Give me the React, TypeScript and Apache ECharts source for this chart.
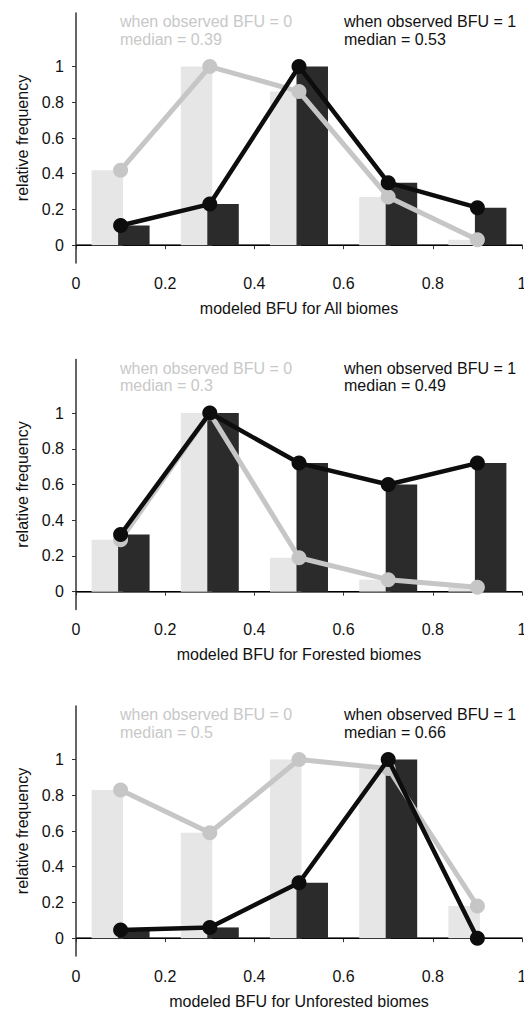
import React, { useEffect, useRef } from "react";
import * as echarts from "echarts";

const centers = [0.1, 0.3, 0.5, 0.7, 0.9];
const xTicks = [0, 0.2, 0.4, 0.6, 0.8, 1];
const yTicks = [0, 0.2, 0.4, 0.6, 0.8, 1];

const allObs0 = [0.42, 1, 0.86, 0.27, 0.03];
const allObs1 = [0.11, 0.23, 1, 0.35, 0.21];
const forObs0 = [0.29, 1, 0.19, 0.067, 0.025];
const forObs1 = [0.32, 1, 0.72, 0.6, 0.72];
const unfObs0 = [0.83, 0.59, 1, 0.95, 0.18];
const unfObs1 = [0.045, 0.06, 0.31, 1, 0];

const titles = [
  "modeled BFU for All biomes",
  "modeled BFU for Forested biomes",
  "modeled BFU for Unforested biomes",
];
const medians0 = ["0.39", "0.3", "0.5"];
const medians1 = ["0.53", "0.49", "0.66"];

const FONT = "'Liberation Sans', Arial, sans-serif";
const GRID_TOPS = [13, 359.5, 706];
const GRID_LEFT = 76;
const GRID_W = 446;
const GRID_H = 250;

const LIGHT_BAR = "#e6e6e6";
const DARK_BAR = "#2b2b2b";
const GRAY_LINE = "#c6c6c6";
const BLACK_LINE = "#0d0d0d";

function fmt(v: number) {
  return String(Math.round(v * 10) / 10);
}

function barSeries(idx: number, vals: number[], lo: number, hi: number, color: string, z: number) {
  return {
    type: "custom",
    xAxisIndex: idx,
    yAxisIndex: idx,
    z,
    encode: { x: 0, y: 1 },
    data: centers.map((c, i) => [c, vals[i]]),
    renderItem: (params: any, api: any) => {
      const x = api.value(0);
      const y = api.value(1);
      const p0 = api.coord([x + lo, 0]);
      const p1 = api.coord([x + hi, y]);
      return {
        type: "rect",
        shape: { x: p0[0], y: p1[1], width: p1[0] - p0[0], height: p0[1] - p1[1] },
        style: { fill: color },
      };
    },
  };
}

function lineSeries(idx: number, vals: number[], color: string, width: number, z: number, extra: any = {}) {
  return {
    type: "line",
    xAxisIndex: idx,
    yAxisIndex: idx,
    z,
    data: centers.map((c, i) => [c, vals[i]]),
    symbol: "circle",
    symbolSize: 15,
    itemStyle: { color },
    lineStyle: { color, width },
    ...extra,
  };
}

export default function App() {
  const ref = useRef<HTMLDivElement>(null);
  useEffect(() => {
    if (!ref.current) return;
    const chart = echarts.init(ref.current, undefined, { renderer: "svg" });
    const sets = [
      [allObs0, allObs1],
      [forObs0, forObs1],
      [unfObs0, unfObs1],
    ];
    const grids = GRID_TOPS.map((t) => ({
      left: GRID_LEFT,
      top: t,
      width: GRID_W,
      height: GRID_H,
      containLabel: false,
      outerBoundsMode: "none",
    }));
    const axisLine = { show: true, lineStyle: { color: "#333", width: 1.5 } };
    const xAxes = grids.map((_, i) => ({
      type: "value",
      gridIndex: i,
      min: 0,
      max: 1,
      interval: 0.2,
      splitLine: { show: false },
      axisLine,
      axisTick: { show: true, length: 4, lineStyle: { color: "#333" } },
      axisLabel: { formatter: fmt, color: "#111", fontSize: 16, fontFamily: FONT, margin: 12, hideOverlap: false },
      name: titles[i],
      nameLocation: "middle",
      nameGap: 37,
      nameTextStyle: { color: "#111", fontSize: 16, fontFamily: FONT },
    }));
    const yAxes = grids.map((_, i) => ({
      type: "value",
      gridIndex: i,
      min: -0.1,
      max: 1.3,
      splitLine: { show: false },
      axisLine,
      axisTick: { show: true, length: 4, customValues: yTicks, lineStyle: { color: "#333" } },
      axisLabel: { customValues: yTicks, formatter: fmt, color: "#111", fontSize: 16, fontFamily: FONT, margin: 12 },
      name: "relative frequency",
      nameLocation: "middle",
      nameGap: 46,
      nameTextStyle: { color: "#111", fontSize: 16, fontFamily: FONT },
    }));
    const series: any[] = [];
    sets.forEach(([v0, v1], i) => {
      series.push(barSeries(i, v0, -0.065, 0.0056, LIGHT_BAR, 1));
      series.push(barSeries(i, v1, -0.0056, 0.065, DARK_BAR, 2));
      series.push(
        lineSeries(i, v0, GRAY_LINE, 5, 3, {
          markLine: {
            silent: true,
            symbol: "none",
            label: { show: false },
            lineStyle: { color: "#000", width: 1, type: "solid" },
            data: [{ yAxis: 0 }],
            z: 1,
          },
        })
      );
      series.push(lineSeries(i, v1, BLACK_LINE, 4.5, 4));
    });
    const graphic: any[] = [];
    GRID_TOPS.forEach((t, i) => {
      graphic.push({
        type: "text",
        x: 120,
        y: t,
        style: {
          text: "when observed BFU = 0\nmedian = " + medians0[i],
          fill: "#c8c8c8",
          fontSize: 16,
          fontFamily: FONT,
          lineHeight: 17.5,
          verticalAlign: "top",
        },
      });
      graphic.push({
        type: "text",
        x: 344,
        y: t,
        style: {
          text: "when observed BFU = 1\nmedian = " + medians1[i],
          fill: "#111",
          fontSize: 16,
          fontFamily: FONT,
          lineHeight: 17.5,
          verticalAlign: "top",
        },
      });
    });
    chart.setOption({
      animation: false,
      backgroundColor: "#fff",
      grid: grids,
      xAxis: xAxes,
      yAxis: yAxes,
      series,
      graphic,
    });
    return () => chart.dispose();
  }, []);
  return (
    <div
      ref={ref}
      style={{ position: "absolute", left: 0, top: 0, width: 524, height: 1010 }}
    />
  );
}
